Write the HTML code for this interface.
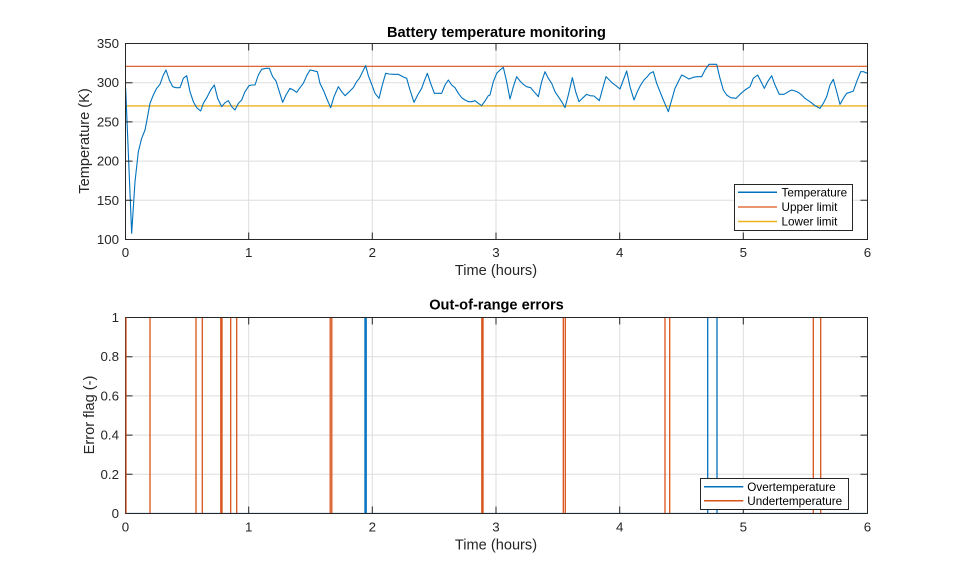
<!DOCTYPE html>
<html><head><meta charset="utf-8"><style>
html,body{margin:0;padding:0;background:#fff;}
svg{display:block;font-family:"Liberation Sans",Arial,sans-serif;}
</style></head><body>
<svg width="959" height="577" viewBox="0 0 959 577" xmlns="http://www.w3.org/2000/svg">
<rect width="959" height="577" fill="#fff"/>
<defs>
<clipPath id="c1"><rect x="125.5" y="43.5" width="742" height="196"/></clipPath>
<clipPath id="c2"><rect x="125" y="317" width="743" height="197"/></clipPath>
</defs>

<!-- ===== TOP AXES ===== -->
<g stroke="#dedede" stroke-width="1" fill="none">
<line x1="248.7" y1="43.5" x2="248.7" y2="239.5"/>
<line x1="372.3" y1="43.5" x2="372.3" y2="239.5"/>
<line x1="496" y1="43.5" x2="496" y2="239.5"/>
<line x1="619.7" y1="43.5" x2="619.7" y2="239.5"/>
<line x1="743.3" y1="43.5" x2="743.3" y2="239.5"/>
<line x1="125.5" y1="200.3" x2="867.5" y2="200.3"/>
<line x1="125.5" y1="161.1" x2="867.5" y2="161.1"/>
<line x1="125.5" y1="121.9" x2="867.5" y2="121.9"/>
<line x1="125.5" y1="82.7" x2="867.5" y2="82.7"/>
</g>
<g clip-path="url(#c1)">
<line x1="125.5" y1="66.3" x2="867.5" y2="66.3" stroke="#D95319" stroke-width="1.2"/>
<line x1="125.5" y1="105.9" x2="867.5" y2="105.9" stroke="#EDB120" stroke-width="1.4"/>
<g transform="translate(120,35) scale(0.333333)">
<polyline fill="none" stroke="#0072BD" stroke-width="1.1" vector-effect="non-scaling-stroke" stroke-linejoin="round" points="
17,160 35,595 45,440 55,350 65,310 75,285 80,260 90,205 100,180 110,160 120,148 130,120 138,105 148,135 158,155 168,158 180,158 190,130 200,122 210,170 220,200 230,218 242,228 250,205 262,185 272,165 283,150 293,190 305,215 315,203 325,197 335,215 345,225 355,205 365,195 375,170 387,152 395,150 405,150 415,120 425,103 438,100 448,100 458,125 468,138 478,170 488,202 498,180 510,160 520,165 530,172 540,158 550,145 560,122 570,105 580,107 592,110 600,145 612,170 622,195 632,218 642,185 655,155 665,170 675,182 688,170 700,158 710,140 718,130 728,110 737,92 745,122 755,148 765,175 777,190 787,150 797,115 807,117 820,118 835,118 848,125 860,130 870,165 882,202 893,180 905,160 912,140 922,115 932,145 943,175 955,175 965,175 975,150 985,135 995,150 1005,158 1015,175 1025,188 1035,195 1045,200 1055,200 1065,197 1075,205 1085,212 1095,198 1105,182
1110,180 1120,140 1130,115 1140,105 1150,97 1160,140 1170,192 1180,155 1190,125 1200,138 1210,148 1220,155 1232,158 1242,170 1255,185 1265,140 1275,110 1285,130 1295,145 1305,170 1315,185 1325,200 1335,218 1345,180 1357,128 1367,170 1377,200 1387,190 1400,178 1410,182 1422,183 1430,190 1438,197 1448,160 1458,125 1468,135 1478,145 1488,152 1500,162 1510,135 1520,108 1530,155 1542,195 1552,170 1562,150 1572,135 1582,125 1590,115 1600,110 1610,145 1620,170 1630,195 1640,218 1645,230 1655,195 1665,160 1675,140 1685,120 1695,125 1707,132 1720,127 1730,125 1745,125 1755,105 1767,88 1780,88 1790,88 1800,130 1810,165 1820,180 1832,188 1848,190 1860,178 1875,165 1890,155 1900,130 1913,120 1923,140 1933,160 1943,140 1955,122 1965,150 1978,178 1992,178 2005,170 2015,165 2025,168 2035,172 2045,180 2055,190 2070,200 2085,212 2100,220 2110,205 2120,185 2130,150 2140,133 2150,170 2160,208 2170,190 2180,175 2190,172 2200,168 2210,140 2222,110 2230,110 2242,115"/>
</g>
</g>
<!-- axes box & ticks -->
<g stroke="#262626" stroke-width="1" fill="none">
<rect x="125.5" y="43.5" width="742" height="196"/>
<path d="M248.7,239.5v-7 M372.3,239.5v-7 M496,239.5v-7 M619.7,239.5v-7 M743.3,239.5v-7
M248.7,43.5v7 M372.3,43.5v7 M496,43.5v7 M619.7,43.5v7 M743.3,43.5v7
M125.5,200.3h7 M125.5,161.1h7 M125.5,121.9h7 M125.5,82.7h7
M867.5,200.3h-7 M867.5,161.1h-7 M867.5,121.9h-7 M867.5,82.7h-7"/>
</g>
<g fill="#262626" font-size="13.3" text-anchor="end">
<text x="119" y="244">100</text>
<text x="119" y="204.8">150</text>
<text x="119" y="165.6">200</text>
<text x="119" y="126.4">250</text>
<text x="119" y="87.2">300</text>
<text x="119" y="48">350</text>
</g>
<g fill="#262626" font-size="13.3" text-anchor="middle">
<text x="125.5" y="257">0</text>
<text x="248.7" y="257">1</text>
<text x="372.3" y="257">2</text>
<text x="496" y="257">3</text>
<text x="619.7" y="257">4</text>
<text x="743.3" y="257">5</text>
<text x="867.5" y="257">6</text>
</g>
<text x="496" y="275" fill="#262626" font-size="14.6" text-anchor="middle">Time (hours)</text>
<text transform="translate(89,141) rotate(-90)" fill="#262626" font-size="14.6" text-anchor="middle">Temperature (K)</text>
<text x="496.5" y="37" fill="#000" font-size="14.6" font-weight="bold" text-anchor="middle">Battery temperature monitoring</text>

<!-- top legend -->
<rect x="734.5" y="184.5" width="118" height="46" fill="#fff" stroke="#262626" stroke-width="1"/>
<line x1="738" y1="192.3" x2="777" y2="192.3" stroke="#0072BD" stroke-width="1.5"/>
<line x1="738" y1="207" x2="777" y2="207" stroke="#D95319" stroke-width="1.3"/>
<line x1="738" y1="221.5" x2="777" y2="221.5" stroke="#EDB120" stroke-width="1.5"/>
<g fill="#000" font-size="11.7">
<text x="781.5" y="196.5">Temperature</text>
<text x="781.5" y="211.2">Upper limit</text>
<text x="781.5" y="225.7">Lower limit</text>
</g>

<!-- ===== BOTTOM AXES ===== -->
<g stroke="#dedede" stroke-width="1" fill="none">
<line x1="248.7" y1="317.5" x2="248.7" y2="513.5"/>
<line x1="372.3" y1="317.5" x2="372.3" y2="513.5"/>
<line x1="496" y1="317.5" x2="496" y2="513.5"/>
<line x1="619.7" y1="317.5" x2="619.7" y2="513.5"/>
<line x1="743.3" y1="317.5" x2="743.3" y2="513.5"/>
<line x1="125.5" y1="474.3" x2="867.5" y2="474.3"/>
<line x1="125.5" y1="435.1" x2="867.5" y2="435.1"/>
<line x1="125.5" y1="395.9" x2="867.5" y2="395.9"/>
<line x1="125.5" y1="356.7" x2="867.5" y2="356.7"/>
</g>
<g clip-path="url(#c2)" fill="none">
<line x1="125.5" y1="513.5" x2="867.5" y2="513.5" stroke="#0072BD" stroke-width="1.2"/>
<g stroke="#D95319" stroke-width="1.3">
<line x1="126" y1="317.5" x2="126" y2="513.5"/>
<line x1="150" y1="317.5" x2="150" y2="513.5"/>
<line x1="196" y1="317.5" x2="196" y2="513.5"/>
<line x1="202.3" y1="317.5" x2="202.3" y2="513.5"/>
<line x1="220.8" y1="317.5" x2="220.8" y2="513.5"/>
<line x1="222" y1="317.5" x2="222" y2="513.5"/>
<line x1="230.7" y1="317.5" x2="230.7" y2="513.5"/>
<line x1="236.7" y1="317.5" x2="236.7" y2="513.5"/>
<line x1="330.2" y1="317.5" x2="330.2" y2="513.5"/>
<line x1="331.8" y1="317.5" x2="331.8" y2="513.5"/>
<line x1="481.8" y1="317.5" x2="481.8" y2="513.5"/>
<line x1="483" y1="317.5" x2="483" y2="513.5"/>
<line x1="563.3" y1="317.5" x2="563.3" y2="513.5"/>
<line x1="565.3" y1="317.5" x2="565.3" y2="513.5"/>
<line x1="665" y1="317.5" x2="665" y2="513.5"/>
<line x1="669.7" y1="317.5" x2="669.7" y2="513.5"/>
<line x1="813.3" y1="317.5" x2="813.3" y2="513.5"/>
<line x1="820.7" y1="317.5" x2="820.7" y2="513.5"/>
</g>
<g stroke="#0072BD" stroke-width="1.3">
<line x1="365" y1="317.5" x2="365" y2="513.5"/>
<line x1="366.2" y1="317.5" x2="366.2" y2="513.5"/>
<line x1="707.7" y1="317.5" x2="707.7" y2="513.5"/>
<line x1="717" y1="317.5" x2="717" y2="513.5"/>
</g>
</g>
<g stroke="#262626" stroke-width="1" fill="none">
<rect x="125.5" y="317.5" width="742" height="196"/>
<path d="M248.7,513.5v-7 M372.3,513.5v-7 M496,513.5v-7 M619.7,513.5v-7 M743.3,513.5v-7
M248.7,317.5v7 M372.3,317.5v7 M496,317.5v7 M619.7,317.5v7 M743.3,317.5v7
M125.5,474.3h7 M125.5,435.1h7 M125.5,395.9h7 M125.5,356.7h7
M867.5,474.3h-7 M867.5,435.1h-7 M867.5,395.9h-7 M867.5,356.7h-7"/>
</g>
<line x1="126" y1="317.5" x2="126" y2="513.5" stroke="#D95319" stroke-width="1"/>
<g fill="#262626" font-size="13.3" text-anchor="end">
<text x="119" y="518">0</text>
<text x="119" y="478.8">0.2</text>
<text x="119" y="439.6">0.4</text>
<text x="119" y="400.4">0.6</text>
<text x="119" y="361.2">0.8</text>
<text x="119" y="322">1</text>
</g>
<g fill="#262626" font-size="13.3" text-anchor="middle">
<text x="125.5" y="531.5">0</text>
<text x="248.7" y="531.5">1</text>
<text x="372.3" y="531.5">2</text>
<text x="496" y="531.5">3</text>
<text x="619.7" y="531.5">4</text>
<text x="743.3" y="531.5">5</text>
<text x="867.5" y="531.5">6</text>
</g>
<text x="496" y="549.5" fill="#262626" font-size="14.6" text-anchor="middle">Time (hours)</text>
<text transform="translate(94,415) rotate(-90)" fill="#262626" font-size="14.6" text-anchor="middle">Error flag (-)</text>
<text x="496.5" y="309.5" fill="#000" font-size="14.6" font-weight="bold" text-anchor="middle">Out-of-range errors</text>

<!-- bottom legend -->
<rect x="700.5" y="478.5" width="148" height="31" fill="#fff" stroke="#262626" stroke-width="1"/>
<line x1="704" y1="486.7" x2="743.3" y2="486.7" stroke="#0072BD" stroke-width="1.5"/>
<line x1="704" y1="500.7" x2="743.3" y2="500.7" stroke="#D95319" stroke-width="1.5"/>
<g fill="#000" font-size="11.7">
<text x="747.3" y="490.9">Overtemperature</text>
<text x="747.3" y="504.9">Undertemperature</text>
</g>
</svg>
</body></html>
